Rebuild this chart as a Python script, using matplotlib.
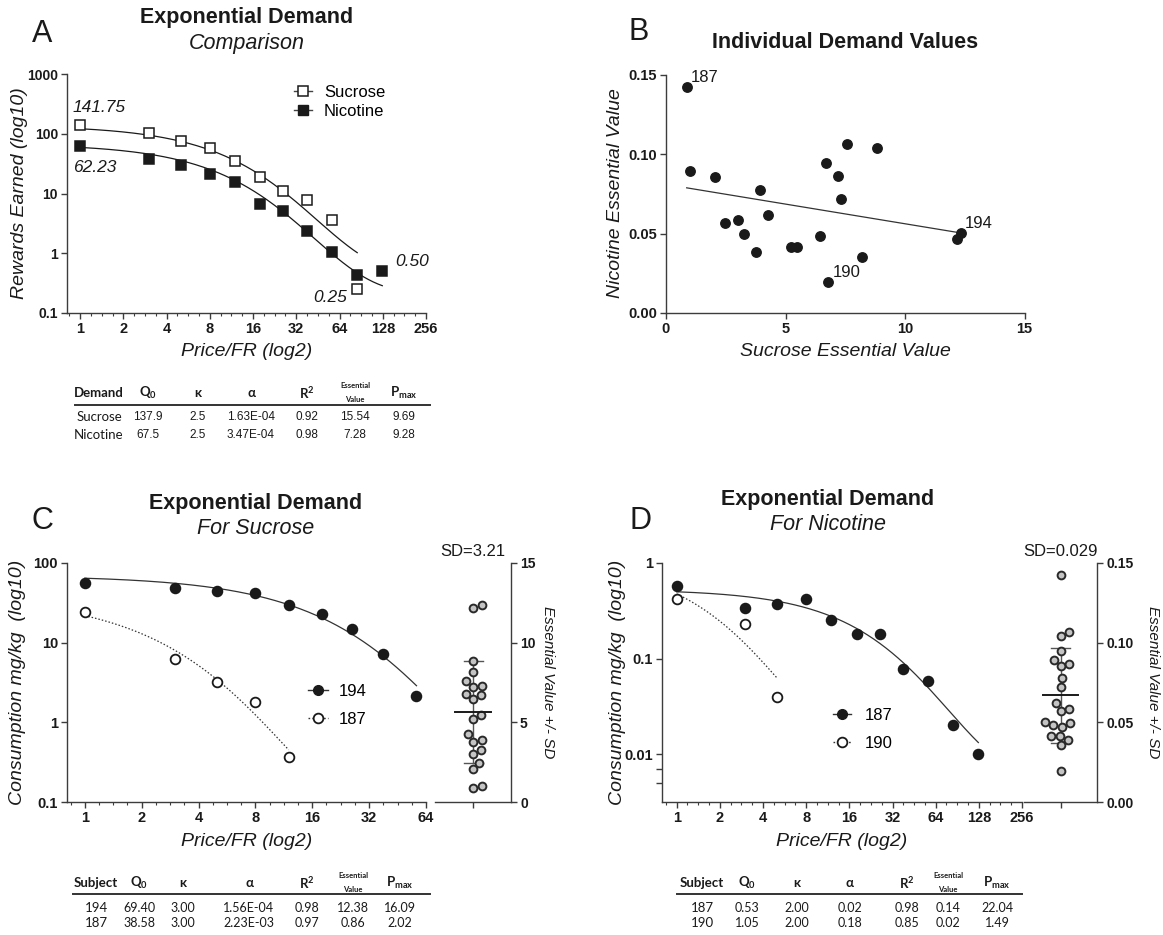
import numpy as np
import matplotlib
matplotlib.use("Agg")
import matplotlib.pyplot as plt
from matplotlib.lines import Line2D
from matplotlib.ticker import NullFormatter, NullLocator

W, H = 1163, 935

plt.rcParams['font.family'] = ['Liberation Sans', 'DejaVu Sans']
plt.rcParams['mathtext.fontset'] = 'custom'
plt.rcParams['mathtext.rm'] = 'Lato'
plt.rcParams['mathtext.bf'] = 'Lato:bold'
plt.rcParams['mathtext.it'] = 'Lato:italic'

# ---------------- data ----------------
price = [1, 3, 5, 8, 12, 18, 26, 38, 57, 85, 127]

# panel A, group means
suc_rewards = [141.75, 102, 76, 57, 35, 18.8, 11.2, 7.8, 3.6, 0.25]
nic_rewards = [62.23, 38, 30.5, 21.6, 15.7, 6.6, 5.0, 2.38, 1.04, 0.43, 0.50]
group_q0 = [137.9, 67.5]
group_k = [2.5, 2.5]
group_alpha = [1.63e-4, 3.47e-4]

# panel B, one point per rat
sucrose_ev = [0.865, 1.02, 2.05, 2.47, 3.0, 3.28, 3.77, 3.92, 4.25, 5.24, 5.48,
              6.46, 6.71, 6.79, 7.21, 7.31, 7.57, 8.19, 8.83, 12.16, 12.34]
nicotine_ev = [0.1424, 0.0892, 0.0854, 0.0569, 0.0585, 0.0497, 0.0386, 0.0776,
               0.0619, 0.0413, 0.0413, 0.0483, 0.0946, 0.0193, 0.0866, 0.0720,
               0.1064, 0.0355, 0.1041, 0.0468, 0.0505]
rat_labels = {0: '187', 13: '190', 20: '194'}

# panel C, sucrose consumption of two rats
suc_194 = [56.6, 48.5, 44.6, 42.1, 30, 23.1, 15, 7.2, 2.14]
suc_187 = [24.3, 6.2, 3.18, 1.82, 0.365]
suc_q0 = [69.40, 38.58]
suc_k = [3.0, 3.0]
suc_alpha = [1.56e-4, 2.23e-3]

# panel D, nicotine consumption of two rats
nic_187 = [0.569, 0.335, 0.374, 0.419, 0.256, 0.179, 0.179, 0.0785, 0.059, 0.02, 0.01]
nic_190 = [0.419, 0.229, 0.040]
nic_q0 = [0.53, 1.05]
nic_k = [2.0, 2.0]
nic_alpha = [0.024, 0.18]   # unrounded fit values (table shows 0.02 / 0.18)

table_a = [['Sucrose', '137.9', '2.5', '1.63E-04', '0.92', '15.54', '9.69'],
           ['Nicotine', '67.5', '2.5', '3.47E-04', '0.98', '7.28', '9.28']]
table_c = [['194', '69.40', '3.00', '1.56E-04', '0.98', '12.38', '16.09'],
           ['187', '38.58', '3.00', '2.23E-03', '0.97', '0.86', '2.02']]
table_d = [['187', '0.53', '2.00', '0.02', '0.98', '0.14', '22.04'],
           ['190', '1.05', '2.00', '0.18', '0.85', '0.02', '1.49']]

INK = '#1a1a1a'
AXC = '#3c3c3c'
GRAYFILL = '#c4c4c4'


def fx(x):
    return x / W


def fy(y):
    return 1 - y / H


def add_axes(fig, l, t, r, b):
    return fig.add_axes([l / W, 1 - b / H, (r - l) / W, (b - t) / H])


def ftext(fig, x, y, s, **kw):
    kw.setdefault('ha', 'center')
    kw.setdefault('va', 'center')
    kw.setdefault('color', INK)
    return fig.text(fx(x), fy(y), s, **kw)


def demand(q0, k, a, c):
    """Exponential demand: log Q = log Q0 + k (exp(-a Q0 C) - 1)"""
    c = np.asarray(c, dtype=float)
    return 10 ** (np.log10(q0) + k * (np.exp(-a * q0 * c) - 1))


def style(ax):
    for s in ['top', 'right']:
        ax.spines[s].set_visible(False)
    for s in ['left', 'bottom']:
        ax.spines[s].set_color(AXC)
        ax.spines[s].set_linewidth(1.0)
    ax.tick_params(which='major', direction='out', length=4, width=1,
                   color=AXC, labelcolor=INK, pad=2.5)
    ax.tick_params(which='minor', direction='out', length=2.5, width=0.8,
                   color=AXC)


def log2_axis(ax, lo, hi, ticks):
    ax.set_xscale('log', base=2)
    ax.set_xlim(lo, hi)
    ax.set_xticks(ticks, [f'{t:g}' for t in ticks], fontweight='bold', fontsize=10.5)
    minors = [2 ** (n + f) for n in range(-1, 9) for f in (0.25, 0.5, 0.75)]
    minors = [m for m in minors if lo <= m <= hi]
    ax.set_xticks(minors, minor=True)
    ax.xaxis.set_minor_formatter(NullFormatter())


def swarm(vals, px_per_unit, diam):
    """simple beeswarm, offsets in pixels"""
    y = np.asarray(vals) * px_per_unit
    xs = np.zeros(len(y))
    done = []
    for i in np.argsort(y):
        cands = [0.0]
        for j in done:
            dy = y[i] - y[j]
            if abs(dy) < diam:
                dx = np.sqrt(diam ** 2 - dy ** 2)
                cands += [xs[j] + dx, xs[j] - dx]
        cands.sort(key=abs)
        for c in cands:
            if all((c - xs[j]) ** 2 + (y[i] - y[j]) ** 2 >= diam ** 2 - 1e-6 for j in done):
                xs[i] = c
                break
        done.append(i)
    return xs


def scatter_inset(fig, l, t, r, b, vals, ymax, yticks, fmt, sd_text, ylab_x):
    ax = add_axes(fig, l, t, r, b)
    ax.set_xlim(-1, 1)
    ax.set_ylim(0, ymax)
    ax.patch.set_alpha(0)
    for s in ['top', 'left']:
        ax.spines[s].set_visible(False)
    for s in ['right', 'bottom']:
        ax.spines[s].set_color(AXC)
        ax.spines[s].set_linewidth(1.0)
    ax.yaxis.tick_right()
    ax.tick_params(direction='out', length=4, width=1, color=AXC,
                   labelcolor=INK, pad=2.5)
    ax.set_yticks(yticks, [fmt.format(v) for v in yticks], fontweight='bold', fontsize=10)
    ax.set_xticks([0], [''])
    px_x = (r - l) / 2.0
    px_y = (b - t) / ymax
    offs = swarm(vals, px_y, 9.0) / px_x
    ax.plot(offs, vals, 'o', ms=5.6, mfc=GRAYFILL, mec='#2a2a2a', mew=1.4,
            ls='none', zorder=3, clip_on=False)
    m = np.mean(vals)
    sd = np.std(vals, ddof=1)
    ax.plot([-0.47, 0.47], [m, m], color=INK, lw=1.4, zorder=4)
    ax.plot([0, 0], [m - sd, m + sd], color='#555555', lw=1.0, zorder=2)
    for v in (m - sd, m + sd):
        ax.plot([-0.25, 0.25], [v, v], color='#555555', lw=1.0, zorder=2)
    ftext(fig, (l + r) / 2, t - 11, sd_text, fontsize=12)
    ftext(fig, ylab_x, (t + b) / 2, 'Essential Value +/- SD', fontsize=11,
          style='italic', rotation=-90)
    return ax


def draw_table(fig, cols, xl, xr, first, rows, y_head, y_line, y_rows,
               num_family, num_size):
    tfam = ['Lato', 'DejaVu Sans']
    heads = [first, r'$\mathbf{Q_0}$', 'κ', 'α', r'$\mathbf{R^2}$', None, r'$\mathbf{P_{max}}$']
    for x, h in zip(cols, heads):
        if h is None:
            ftext(fig, x, y_head - 7, 'Essential', fontsize=5.5, fontweight='bold', family=tfam)
            ftext(fig, x, y_head + 6, 'Value', fontsize=5.5, fontweight='bold', family=tfam)
        else:
            ftext(fig, x, y_head, h, fontsize=9.5, fontweight='bold', family=tfam)
    fig.add_artist(Line2D([fx(xl), fx(xr)], [fy(y_line), fy(y_line)],
                          transform=fig.transFigure, color='#333333', lw=1.4))
    for yr, row in zip(y_rows, rows):
        for i, (x, s) in enumerate(zip(cols, row)):
            fam = tfam if i == 0 else num_family
            ftext(fig, x, yr, s, fontsize=9.5 if i == 0 else num_size, family=fam)


fig = plt.figure(figsize=(W / 100, H / 100), dpi=100)

# ================= A =================
axA = add_axes(fig, 67, 74, 426, 313)
style(axA)
log2_axis(axA, 0.81, 256, [1, 2, 4, 8, 16, 32, 64, 128, 256])
axA.set_yscale('log')
axA.set_ylim(0.1, 1000)
ya = [0.1, 1, 10, 100, 1000]
axA.set_yticks(ya, [f'{v:g}' for v in ya], fontweight='bold', fontsize=10)
axA.yaxis.set_minor_locator(NullLocator())

for rew, q0, k, a, mfc in zip([suc_rewards, nic_rewards], group_q0, group_k,
                              group_alpha, ['white', INK]):
    xp = price[:len(rew)]
    cc = np.geomspace(xp[0], xp[-1], 200)
    axA.plot(cc, demand(q0, k, a, cc), color=INK, lw=0.9, zorder=2)
    axA.plot(xp, rew, 's', ms=7, mfc=mfc, mec=INK, mew=1.1, zorder=3, clip_on=False)

hA = [Line2D([], [], color='#444444', lw=1, marker='s', ms=7, mfc='white', mec=INK, mew=1.1),
      Line2D([], [], color='#444444', lw=1, marker='s', ms=7, mfc=INK, mec=INK)]
axA.legend(hA, ['Sucrose', 'Nicotine'], loc='upper left', bbox_to_anchor=(fx(294), fy(85)),
           bbox_transform=fig.transFigure, frameon=False, fontsize=12, handlelength=1.1,
           handletextpad=0.7, labelspacing=0.25, borderpad=0, borderaxespad=0)

ann_it = dict(fontsize=12.5, style='italic')
ftext(fig, 99, 108, f'{suc_rewards[0]:.2f}', **ann_it)
ftext(fig, 95, 167, f'{nic_rewards[0]:.2f}', **ann_it)
ftext(fig, 330, 298, f'{suc_rewards[-1]:.2f}', **ann_it)
ftext(fig, 412, 261, f'{nic_rewards[-1]:.2f}', **ann_it)

ftext(fig, 42, 34, 'A', fontsize=22)
ftext(fig, 247, 17, 'Exponential Demand', fontsize=15.5, fontweight='bold')
ftext(fig, 247, 43, 'Comparison', fontsize=15.5, style='italic')
ftext(fig, 20, 193, 'Rewards Earned (log10)', fontsize=14, style='italic', rotation=90)
ftext(fig, 247, 352, 'Price/FR (log2)', fontsize=14, style='italic')

draw_table(fig, [99, 148, 198, 251, 307, 355, 404], 75, 430, 'Demand', table_a,
           393, 405, [417, 435], ['Liberation Sans', 'DejaVu Sans'], 8.5)

# ================= B =================
axB = add_axes(fig, 666, 75, 1024.5, 313)
style(axB)
axB.set_xlim(0, 15)
axB.set_ylim(0, 0.15)
xb = [0, 5, 10, 15]
yb = [0, 0.05, 0.10, 0.15]
axB.set_xticks(xb, [str(v) for v in xb], fontweight='bold', fontsize=10.5)
axB.set_yticks(yb, [f'{v:.2f}' for v in yb], fontweight='bold', fontsize=10.5)
axB.plot(sucrose_ev, nicotine_ev, 'o', ms=6.8, color=INK, ls='none', zorder=3, clip_on=False)
slope, icpt = np.polyfit(sucrose_ev, nicotine_ev, 1)
xr = np.array([min(sucrose_ev), max(sucrose_ev)])
axB.plot(xr, slope * xr + icpt, color='#333333', lw=0.9, zorder=2)
for i, lab in rat_labels.items():
    axB.annotate(lab, (sucrose_ev[i], nicotine_ev[i]), xytext=(3, 1.5),
                 textcoords='offset points', fontsize=12, color=INK, va='bottom')

ftext(fig, 639, 32, 'B', fontsize=22)
ftext(fig, 845, 42, 'Individual Demand Values', fontsize=15.5, fontweight='bold')
ftext(fig, 615, 193, 'Nicotine Essential Value', fontsize=14, style='italic', rotation=90)
ftext(fig, 845, 352, 'Sucrose Essential Value', fontsize=14, style='italic')

# ================= C =================
axC = add_axes(fig, 67, 563, 426, 802)
style(axC)
log2_axis(axC, 0.805, 64, [1, 2, 4, 8, 16, 32, 64])
axC.set_yscale('log')
axC.set_ylim(0.1, 100)
yc = [0.1, 1, 10, 100]
axC.set_yticks(yc, [f'{v:g}' for v in yc], fontweight='bold', fontsize=10.5)
axC.yaxis.set_minor_locator(NullLocator())

for vals, q0, k, a, mfc, ls in zip([suc_194, suc_187], suc_q0, suc_k, suc_alpha,
                                   [INK, 'white'], ['-', (0, (1.2, 1.6))]):
    xp = price[:len(vals)]
    cc = np.geomspace(xp[0], xp[-1], 200)
    axC.plot(cc, demand(q0, k, a, cc), color='#333333', lw=0.9, ls=ls, zorder=2)
    axC.plot(xp, vals, 'o', ms=7, mfc=mfc, mec=INK, mew=1.3, zorder=3, clip_on=False)

hC = [Line2D([], [], color='#333333', lw=1, marker='o', ms=7, mfc=INK, mec=INK),
      Line2D([], [], color='#333333', lw=1, ls=(0, (1.2, 1.6)), marker='o', ms=7,
             mfc='white', mec=INK, mew=1.3)]
axC.legend(hC, ['194', '187'], loc='upper left', bbox_to_anchor=(fx(308), fy(684)),
           bbox_transform=fig.transFigure, frameon=False, fontsize=12, handlelength=1.2,
           handletextpad=0.65, labelspacing=0.78, borderpad=0, borderaxespad=0)

scatter_inset(fig, 435, 563, 511, 802, sucrose_ev, 15, [0, 5, 10, 15], '{:g}',
              'SD=3.21', 548)

ftext(fig, 42, 521, 'C', fontsize=22)
ftext(fig, 256, 503, 'Exponential Demand', fontsize=15.5, fontweight='bold')
ftext(fig, 256, 528, 'For Sucrose', fontsize=15.5, style='italic')
ftext(fig, 18, 682, 'Consumption mg/kg  (log10)', fontsize=14, style='italic', rotation=90)
ftext(fig, 247, 842, 'Price/FR (log2)', fontsize=14, style='italic')

draw_table(fig, [96, 139, 183, 249, 307, 353, 400], 73, 430, 'Subject', table_c,
           883, 894, [908, 923], ['Lato', 'DejaVu Sans'], 9)

# ================= D =================
axD = add_axes(fig, 662, 563, 1022, 802)
style(axD)
log2_axis(axD, 0.79, 256, [1, 2, 4, 8, 16, 32, 64, 128, 256])
axD.set_yscale('log')
axD.set_ylim(10 ** -2.5, 1)
yd = [0.01, 0.1, 1]
axD.set_yticks(yd, [f'{v:g}' for v in yd], fontweight='bold', fontsize=10.5)
axD.set_yticks([0.005, 0.007], minor=True)
axD.yaxis.set_minor_formatter(NullFormatter())
axD.tick_params(axis='y', which='minor', length=4, width=1)

for vals, q0, k, a, mfc, ls in zip([nic_187, nic_190], nic_q0, nic_k, nic_alpha,
                                   [INK, 'white'], ['-', (0, (1.2, 1.6))]):
    xp = price[:len(vals)]
    cc = np.geomspace(xp[0], xp[-1], 200)
    axD.plot(cc, demand(q0, k, a, cc), color='#333333', lw=0.9, ls=ls, zorder=2)
    axD.plot(xp, vals, 'o', ms=7, mfc=mfc, mec=INK, mew=1.3, zorder=3, clip_on=False)

axD.legend(hC, ['187', '190'], loc='upper left', bbox_to_anchor=(fx(833), fy(708)),
           bbox_transform=fig.transFigure, frameon=False, fontsize=12, handlelength=1.1,
           handletextpad=0.8, labelspacing=0.75, borderpad=0, borderaxespad=0)

scatter_inset(fig, 1024, 563, 1097, 802, nicotine_ev, 0.15, [0, 0.05, 0.10, 0.15],
              '{:.2f}', 'SD=0.029', 1153)

ftext(fig, 640, 521, 'D', fontsize=22)
ftext(fig, 828, 500, 'Exponential Demand', fontsize=15.5, fontweight='bold')
ftext(fig, 828, 524, 'For Nicotine', fontsize=15.5, style='italic')
ftext(fig, 617, 682, 'Consumption mg/kg  (log10)', fontsize=14, style='italic', rotation=90)
ftext(fig, 842, 842, 'Price/FR (log2)', fontsize=14, style='italic')

draw_table(fig, [702, 747, 797, 850, 907, 948, 997], 677, 1022, 'Subject', table_d,
           883, 894, [908, 923], ['Lato', 'DejaVu Sans'], 9)

fig.savefig('out.png', dpi=100)
